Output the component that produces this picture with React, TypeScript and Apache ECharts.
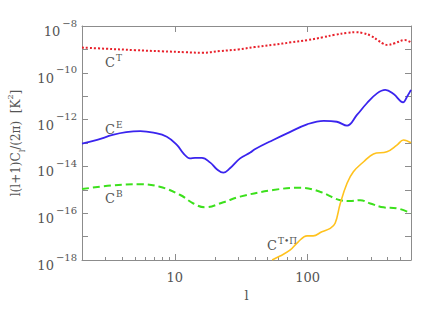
import React, { useEffect, useRef } from "react";
import * as echarts from "echarts";

// multipole l and l(l+1)C_l/(2pi) in K^2
const ctL = [2, 3, 5, 8, 12, 16, 22, 30, 40, 55, 75, 100, 130, 160, 200, 230, 260, 300, 340, 370, 400, 450, 540, 600];
const ctV = [1.2e-9, 1.07e-9, 9.3e-10, 8.3e-10, 7.6e-10, 7.2e-10, 8.5e-10, 1.0e-9, 1.26e-9, 1.58e-9, 2.0e-9, 2.5e-9, 3.3e-9, 4.2e-9, 5.1e-9, 5.4e-9, 5.0e-9, 3.8e-9, 2.4e-9, 1.78e-9, 1.55e-9, 1.82e-9, 2.5e-9, 2.0e-9];

const ceL = [2, 2.6, 3.4, 4.3, 5.5, 6.9, 8.7, 10.4, 11.6, 13, 14.2, 16, 18.5, 20.7, 23.2, 26, 31, 37, 40, 55, 74, 99, 132, 166, 198, 235, 279, 333, 384, 444, 523, 560, 600];
const ceV = [9.3e-14, 1.35e-13, 2.2e-13, 2.9e-13, 3.2e-13, 2.75e-13, 1.86e-13, 8.1e-14, 3.6e-14, 2.2e-14, 2.3e-14, 2.3e-14, 1.45e-14, 7.6e-15, 5.4e-15, 8.3e-15, 2.2e-14, 3.9e-14, 5.4e-14, 1.35e-13, 3.0e-13, 6.3e-13, 8.9e-13, 8.1e-13, 5.5e-13, 1.58e-12, 5.0e-12, 1.32e-11, 1.86e-11, 1.23e-11, 5.5e-12, 9.5e-12, 1.86e-11];

const cbL = [2, 3.4, 5.5, 7.7, 11, 13.8, 16.9, 23.2, 31, 55, 88, 124, 176, 209, 249, 296, 373, 470, 600];
const cbV = [1.07e-15, 1.55e-15, 1.74e-15, 1.35e-15, 6.0e-16, 2.6e-16, 1.78e-16, 2.95e-16, 5.1e-16, 9.8e-16, 1.23e-15, 8.3e-16, 3.6e-16, 3.3e-16, 3.6e-16, 2.6e-16, 1.78e-16, 1.62e-16, 1.0e-16];

const ctpL = [54, 62, 74, 85, 99, 110, 128, 148, 161, 176, 198, 221, 264, 313, 395, 470, 527, 600];
const ctpV = [1.0e-18, 1.48e-18, 2.7e-18, 6.0e-18, 1.07e-17, 1.07e-17, 1.62e-17, 2.24e-17, 3.7e-17, 2.6e-16, 1.9e-15, 5.9e-15, 1.58e-14, 3.4e-14, 4.2e-14, 8.1e-14, 1.35e-13, 1.02e-13];

const xMajorTicks = [10, 100];
const xMinorTicks = [2, 3, 4, 5, 6, 7, 8, 9, 20, 30, 40, 50, 60, 70, 80, 90, 200, 300, 400, 500, 600];
const yTicks = [1e-18, 1e-17, 1e-16, 1e-15, 1e-14, 1e-13, 1e-12, 1e-11, 1e-10, 1e-9, 1e-8];
const yLabelTicks = [1e-18, 1e-16, 1e-14, 1e-12, 1e-10, 1e-8];

const SERIF = "'DejaVu Serif', 'Liberation Serif', serif";
const AXIS = "#8c8c8c";
const TEXT = "#555555";

function pairs(l: number[], v: number[]) {
  return l.map((x, i) => [x, v[i]]);
}

function xAxisCfg(position: "top" | "bottom", major: boolean, labels: boolean): any {
  return {
    type: "log",
    logBase: 10,
    min: 2,
    max: 600,
    position,
    axisLine: { show: major, lineStyle: { color: AXIS, width: 1 } },
    axisTick: {
      show: true,
      inside: true,
      length: major ? 6 : 3,
      customValues: major ? xMajorTicks : xMinorTicks,
      lineStyle: { color: AXIS, width: 1 },
    },
    axisLabel: labels
      ? {
          show: true,
          customValues: xMajorTicks,
          formatter: (v: number) => String(Math.round(v)),
          fontFamily: SERIF,
          fontSize: 13,
          color: TEXT,
          margin: 11,
        }
      : { show: false },
    splitLine: { show: false },
    minorTick: { show: false },
    name: labels ? "l" : "",
    nameLocation: "middle",
    nameGap: 24,
    nameTextStyle: { fontFamily: SERIF, fontSize: 13, color: TEXT },
  };
}

function yAxisCfg(position: "left" | "right", labels: boolean): any {
  return {
    type: "log",
    logBase: 10,
    min: 1e-18,
    max: 1e-8,
    position,
    axisLine: { show: true, lineStyle: { color: AXIS, width: 1 } },
    axisTick: {
      show: true,
      inside: true,
      length: 6,
      customValues: yTicks,
      lineStyle: { color: AXIS, width: 1 },
    },
    axisLabel: labels
      ? {
          show: true,
          customValues: yLabelTicks,
          formatter: (v: number) => {
            const e = Math.round(Math.log10(v));
            return "{b|10}{s|\u2212" + String(-e) + "}";
          },
          margin: 5,
          padding: [4, 0, 0, 0],
          rich: {
            b: { fontFamily: SERIF, fontSize: 13, color: TEXT, lineHeight: 20, verticalAlign: "bottom" },
            s: { fontFamily: SERIF, fontSize: 10, color: TEXT, lineHeight: 4, verticalAlign: "top", padding: [0, 0, 0, 2] },
          },
        }
      : { show: false },
    splitLine: { show: false },
    minorTick: { show: false },
    name: labels ? "l(l+1)C{sub|l}/(2\u03c0)  [K{sup|2}]" : "",
    nameLocation: "middle",
    nameGap: 58,
    nameRotate: 90,
    nameTextStyle: {
      fontFamily: SERIF,
      fontSize: 12,
      color: TEXT,
      rich: {
        sub: { fontFamily: SERIF, fontSize: 8, color: TEXT, verticalAlign: "bottom", lineHeight: 10, padding: [0, 0, -4, 0] },
        sup: { fontFamily: SERIF, fontSize: 8, color: TEXT, verticalAlign: "top", lineHeight: 10, padding: [-4, 0, 0, 0] },
      },
    },
  };
}

function annot(x: number, y: number, sup: string): any {
  return {
    type: "text",
    x,
    y,
    silent: true,
    style: {
      text: "{c|C}{s|" + sup + "}",
      verticalAlign: "middle",
      align: "left",
      rich: {
        c: { fontFamily: SERIF, fontSize: 13, fill: TEXT, lineHeight: 16, verticalAlign: "bottom" },
        s: { fontFamily: SERIF, fontSize: 9, fill: TEXT, lineHeight: 9, verticalAlign: "top", padding: [0, 0, 0, 1] },
      },
    },
  };
}

export default function App() {
  const ref = useRef<HTMLDivElement>(null);
  useEffect(() => {
    document.body.style.margin = "0";
    const chart = echarts.init(ref.current!, undefined, { renderer: "svg" });
    chart.setOption({
      animation: false,
      backgroundColor: "#ffffff",
      grid: { left: 82, right: 25, top: 26, bottom: 52, containLabel: false, outerBoundsMode: "none" },
      xAxis: [
        xAxisCfg("bottom", true, true),
        xAxisCfg("top", true, false),
        xAxisCfg("bottom", false, false),
        xAxisCfg("bottom", false, false),
      ],
      yAxis: [yAxisCfg("left", true), yAxisCfg("right", false)],
      graphic: [
        annot(105, 61, "T"),
        annot(105, 128, "E"),
        annot(105, 197, "B"),
        annot(267, 244, "T\u2022\u03a0"),
      ],
      series: [
        {
          name: "CT",
          type: "line",
          data: pairs(ctL, ctV),
          smooth: 0.4,
          showSymbol: false,
          lineStyle: { color: "#e8202a", width: 2, type: [2, 2] },
        },
        {
          name: "CE",
          type: "line",
          data: pairs(ceL, ceV),
          smooth: 0.4,
          showSymbol: false,
          lineStyle: { color: "#3a24ee", width: 1.8 },
        },
        {
          name: "CB",
          type: "line",
          data: pairs(cbL, cbV),
          smooth: 0.4,
          showSymbol: false,
          lineStyle: { color: "#3ce01c", width: 2, type: [7, 4] },
        },
        {
          name: "CTP",
          type: "line",
          data: pairs(ctpL, ctpV),
          smooth: 0.4,
          showSymbol: false,
          lineStyle: { color: "#ffc21e", width: 1.6 },
        },
      ],
    });
    return () => chart.dispose();
  }, []);
  return <div ref={ref} style={{ width: 436, height: 312 }} />;
}
